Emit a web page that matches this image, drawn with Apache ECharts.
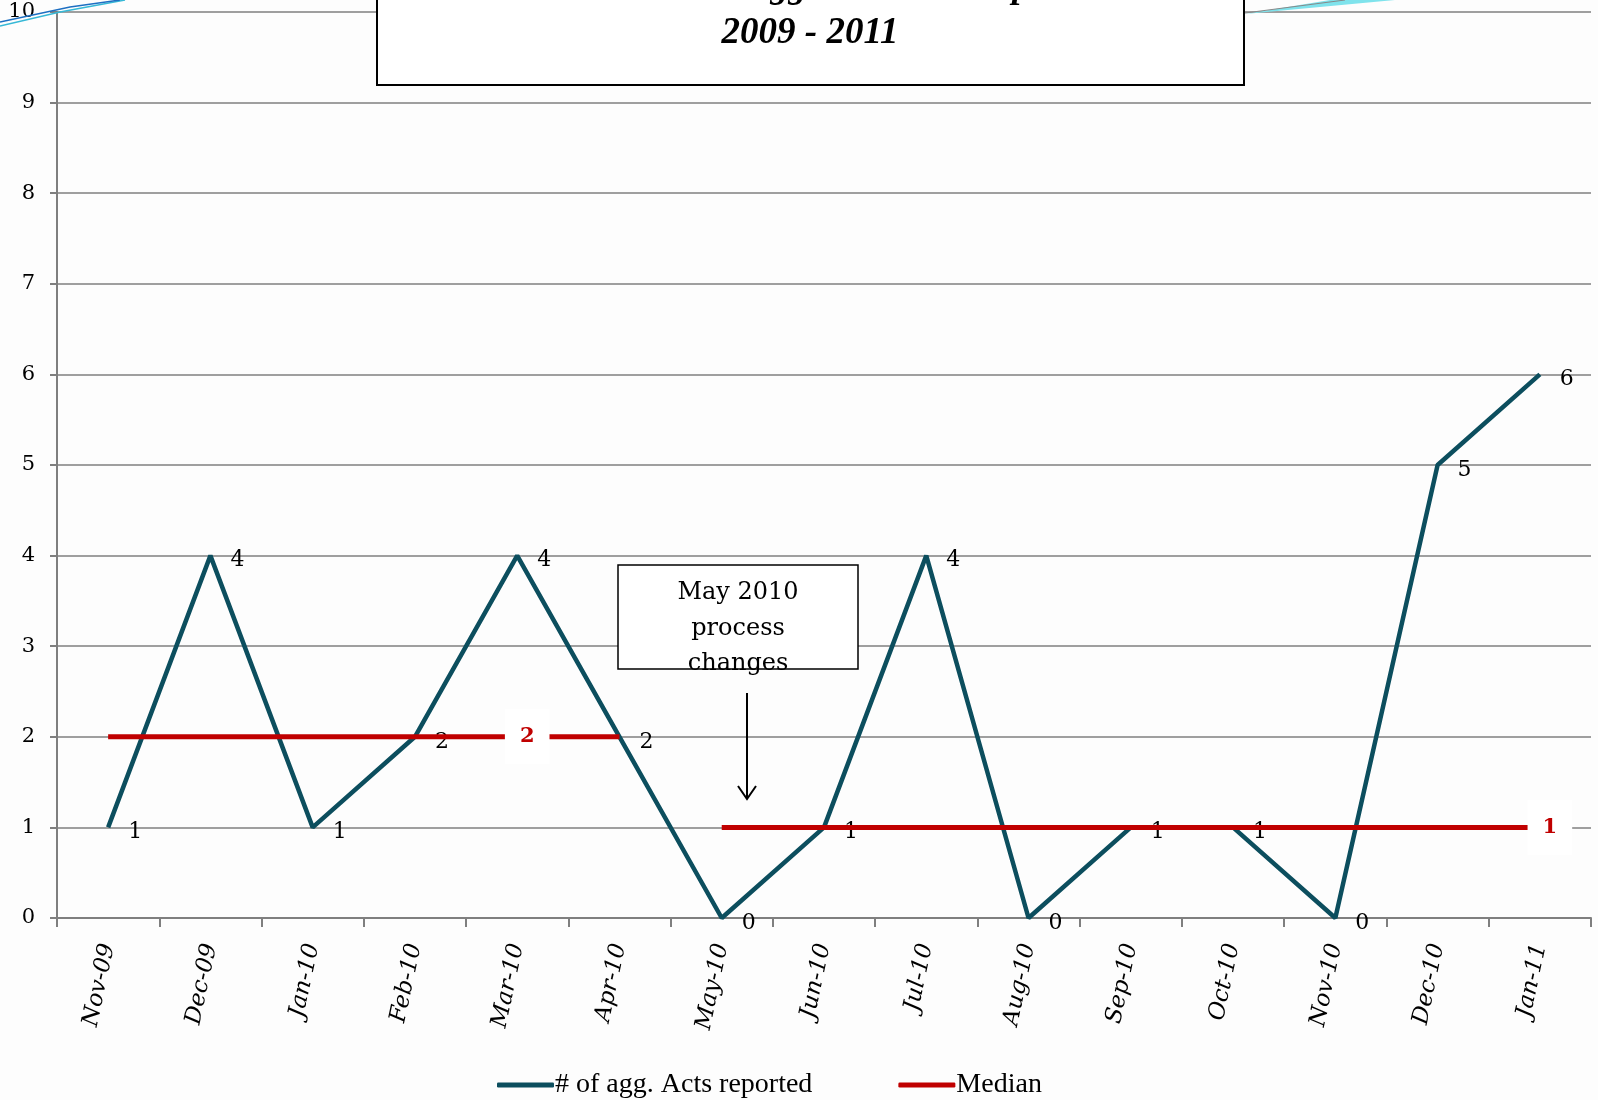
<!DOCTYPE html>
<html>
<head>
<meta charset="utf-8">
<script src="https://cdn.jsdelivr.net/npm/echarts@6/dist/echarts.min.js"></script>
<style>
  html, body { margin: 0; padding: 0; background: #fff; }
  #chart { width: 1598px; height: 1100px; }
</style>
</head>
<body>
<div id="chart"></div>
<script>
// months on the x axis
var months = ['Nov-09', 'Dec-09', 'Jan-10', 'Feb-10', 'Mar-10', 'Apr-10', 'May-10', 'Jun-10',
              'Jul-10', 'Aug-10', 'Sep-10', 'Oct-10', 'Nov-10', 'Dec-10', 'Jan-11'];
// # of agg. acts reported each month
var actsReported = [1, 4, 1, 2, 4, 2, 0, 1, 4, 0, 1, 1, 0, 5, 6];
// median before and after the May 2010 process change
var medianBefore = [2, 2, 2, 2, 2, 2, null, null, null, null, null, null, null, null, null];
var medianAfter = [null, null, null, null, null, null, 1, 1, 1, 1, 1, 1, 1, 1, 1];
// which median points carry a boxed label
var medianLabelAt = ['Mar-10', 'Jan-11'];

var teal = '#0c4e5e';
var red = '#c00000';
var serif = "'DejaVu Serif', serif";
var times = "'Liberation Serif', 'Times New Roman', serif";

function medianData(vals) {
  return vals.map(function (v, i) {
    if (medianLabelAt.indexOf(months[i]) >= 0 && v != null) {
      return {
        value: v,
        label: {
          show: true, position: 'inside', offset: [10, 0],
          color: red, fontFamily: serif, fontWeight: 'bold', fontSize: 21,
          backgroundColor: '#fff', padding: [17, 15]
        }
      };
    }
    return v;
  });
}

var chart = echarts.init(document.getElementById('chart'));
chart.setOption({
  backgroundColor: '#fdfdfd',
  animation: false,
  grid: { left: 57, right: 7, top: 12, bottom: 182 },
  legend: {
    left: 492, top: 1066,
    icon: 'roundRect', itemWidth: 57, itemHeight: 5, itemGap: 86,
    textStyle: { fontFamily: times, fontSize: 28, color: '#000', padding: [0, 0, 0, -4] },
    data: ['# of agg. Acts reported', 'Median']
  },
  xAxis: {
    type: 'category',
    data: months,
    boundaryGap: true,
    axisLine: { lineStyle: { color: '#7f7f7f', width: 2 } },
    axisTick: { show: true, length: 9, inside: false, lineStyle: { color: '#7f7f7f', width: 2 } },
    axisLabel: {
      rotate: 78, margin: 26, color: '#000',
      fontFamily: serif, fontStyle: 'italic', fontSize: 23
    }
  },
  yAxis: {
    type: 'value', min: 0, max: 10, interval: 1,
    axisLine: { show: true, lineStyle: { color: '#7f7f7f', width: 2 } },
    axisTick: { show: true, length: 7, lineStyle: { color: '#7f7f7f', width: 2 } },
    axisLabel: { margin: 22, color: '#000', fontFamily: serif, fontSize: 21 },
    splitLine: { lineStyle: { color: '#7f7f7f', width: 1.5 } }
  },
  series: [
    {
      name: '# of agg. Acts reported',
      type: 'line',
      data: actsReported,
      symbol: 'circle', symbolSize: 0, showSymbol: true,
      itemStyle: { color: teal },
      lineStyle: { color: teal, width: 4.5 },
      label: {
        show: true, position: 'right', distance: 20, offset: [0, 5],
        color: '#000', fontFamily: serif, fontSize: 22
      },
      z: 2
    },
    {
      name: 'Median',
      type: 'line',
      data: medianData(medianBefore),
      symbol: 'circle', symbolSize: 0, showSymbol: true,
      itemStyle: { color: red },
      lineStyle: { color: red, width: 5 },
      label: { show: false },
      z: 3
    },
    {
      name: 'Median',
      type: 'line',
      data: medianData(medianAfter),
      symbol: 'circle', symbolSize: 0, showSymbol: true,
      itemStyle: { color: red },
      lineStyle: { color: red, width: 5 },
      label: { show: false },
      z: 3
    }
  ],
  graphic: [
    // template swooshes
    { type: 'polyline', shape: { points: [[0, 26], [60, 12], [125, 0]] }, style: { stroke: '#36b8d6', lineWidth: 1.5, fill: null }, z: 10 },
    { type: 'polyline', shape: { points: [[0, 22], [70, 7], [120, 0]] }, style: { stroke: '#1d6fc2', lineWidth: 1.5, fill: null }, z: 10 },
    { type: 'polygon', shape: { points: [[1245, 14], [1395, 0], [1330, 0]] }, style: { fill: '#7fe3ec' }, z: 10 },
    { type: 'polyline', shape: { points: [[1245, 13], [1345, 0]] }, style: { stroke: '#888', lineWidth: 1 }, z: 10 },
    // title box, top line cut off by the slide edge
    { type: 'rect', shape: { x: 377, y: -40, width: 867, height: 125 }, style: { fill: '#fff', stroke: '#000', lineWidth: 2 }, z: 20 },
    { type: 'text', x: 810, y: -12, style: { text: 'Total # assaults/aggressive acts reported', fontFamily: times, fontStyle: 'italic', fontWeight: 'bold', fontSize: 36, fill: '#000', align: 'center', verticalAlign: 'middle' }, z: 21 },
    { type: 'text', x: 810, y: 33, style: { text: '2009 - 2011', fontFamily: times, fontStyle: 'italic', fontWeight: 'bold', fontSize: 37, fill: '#000', align: 'center', verticalAlign: 'middle' }, z: 21 },
    // annotation box
    { type: 'rect', shape: { x: 618, y: 565, width: 240, height: 104 }, style: { fill: '#fff', stroke: '#000', lineWidth: 1.5 }, z: 20 },
    { type: 'text', x: 738, y: 593, style: { text: 'May 2010', fontFamily: serif, fontSize: 24, fill: '#000', align: 'center', verticalAlign: 'middle' }, z: 21 },
    { type: 'text', x: 738, y: 629, style: { text: 'process', fontFamily: serif, fontSize: 24, fill: '#000', align: 'center', verticalAlign: 'middle' }, z: 21 },
    { type: 'text', x: 738, y: 664, style: { text: 'changes', fontFamily: serif, fontSize: 24, fill: '#000', align: 'center', verticalAlign: 'middle' }, z: 21 },
    { type: 'line', shape: { x1: 747, y1: 693, x2: 747, y2: 799 }, style: { stroke: '#000', lineWidth: 2 }, z: 20 },
    { type: 'polyline', shape: { points: [[738, 786], [747, 799], [756, 786]] }, style: { stroke: '#000', lineWidth: 2, fill: null }, z: 20 }
  ]
});
</script>
</body>
</html>
